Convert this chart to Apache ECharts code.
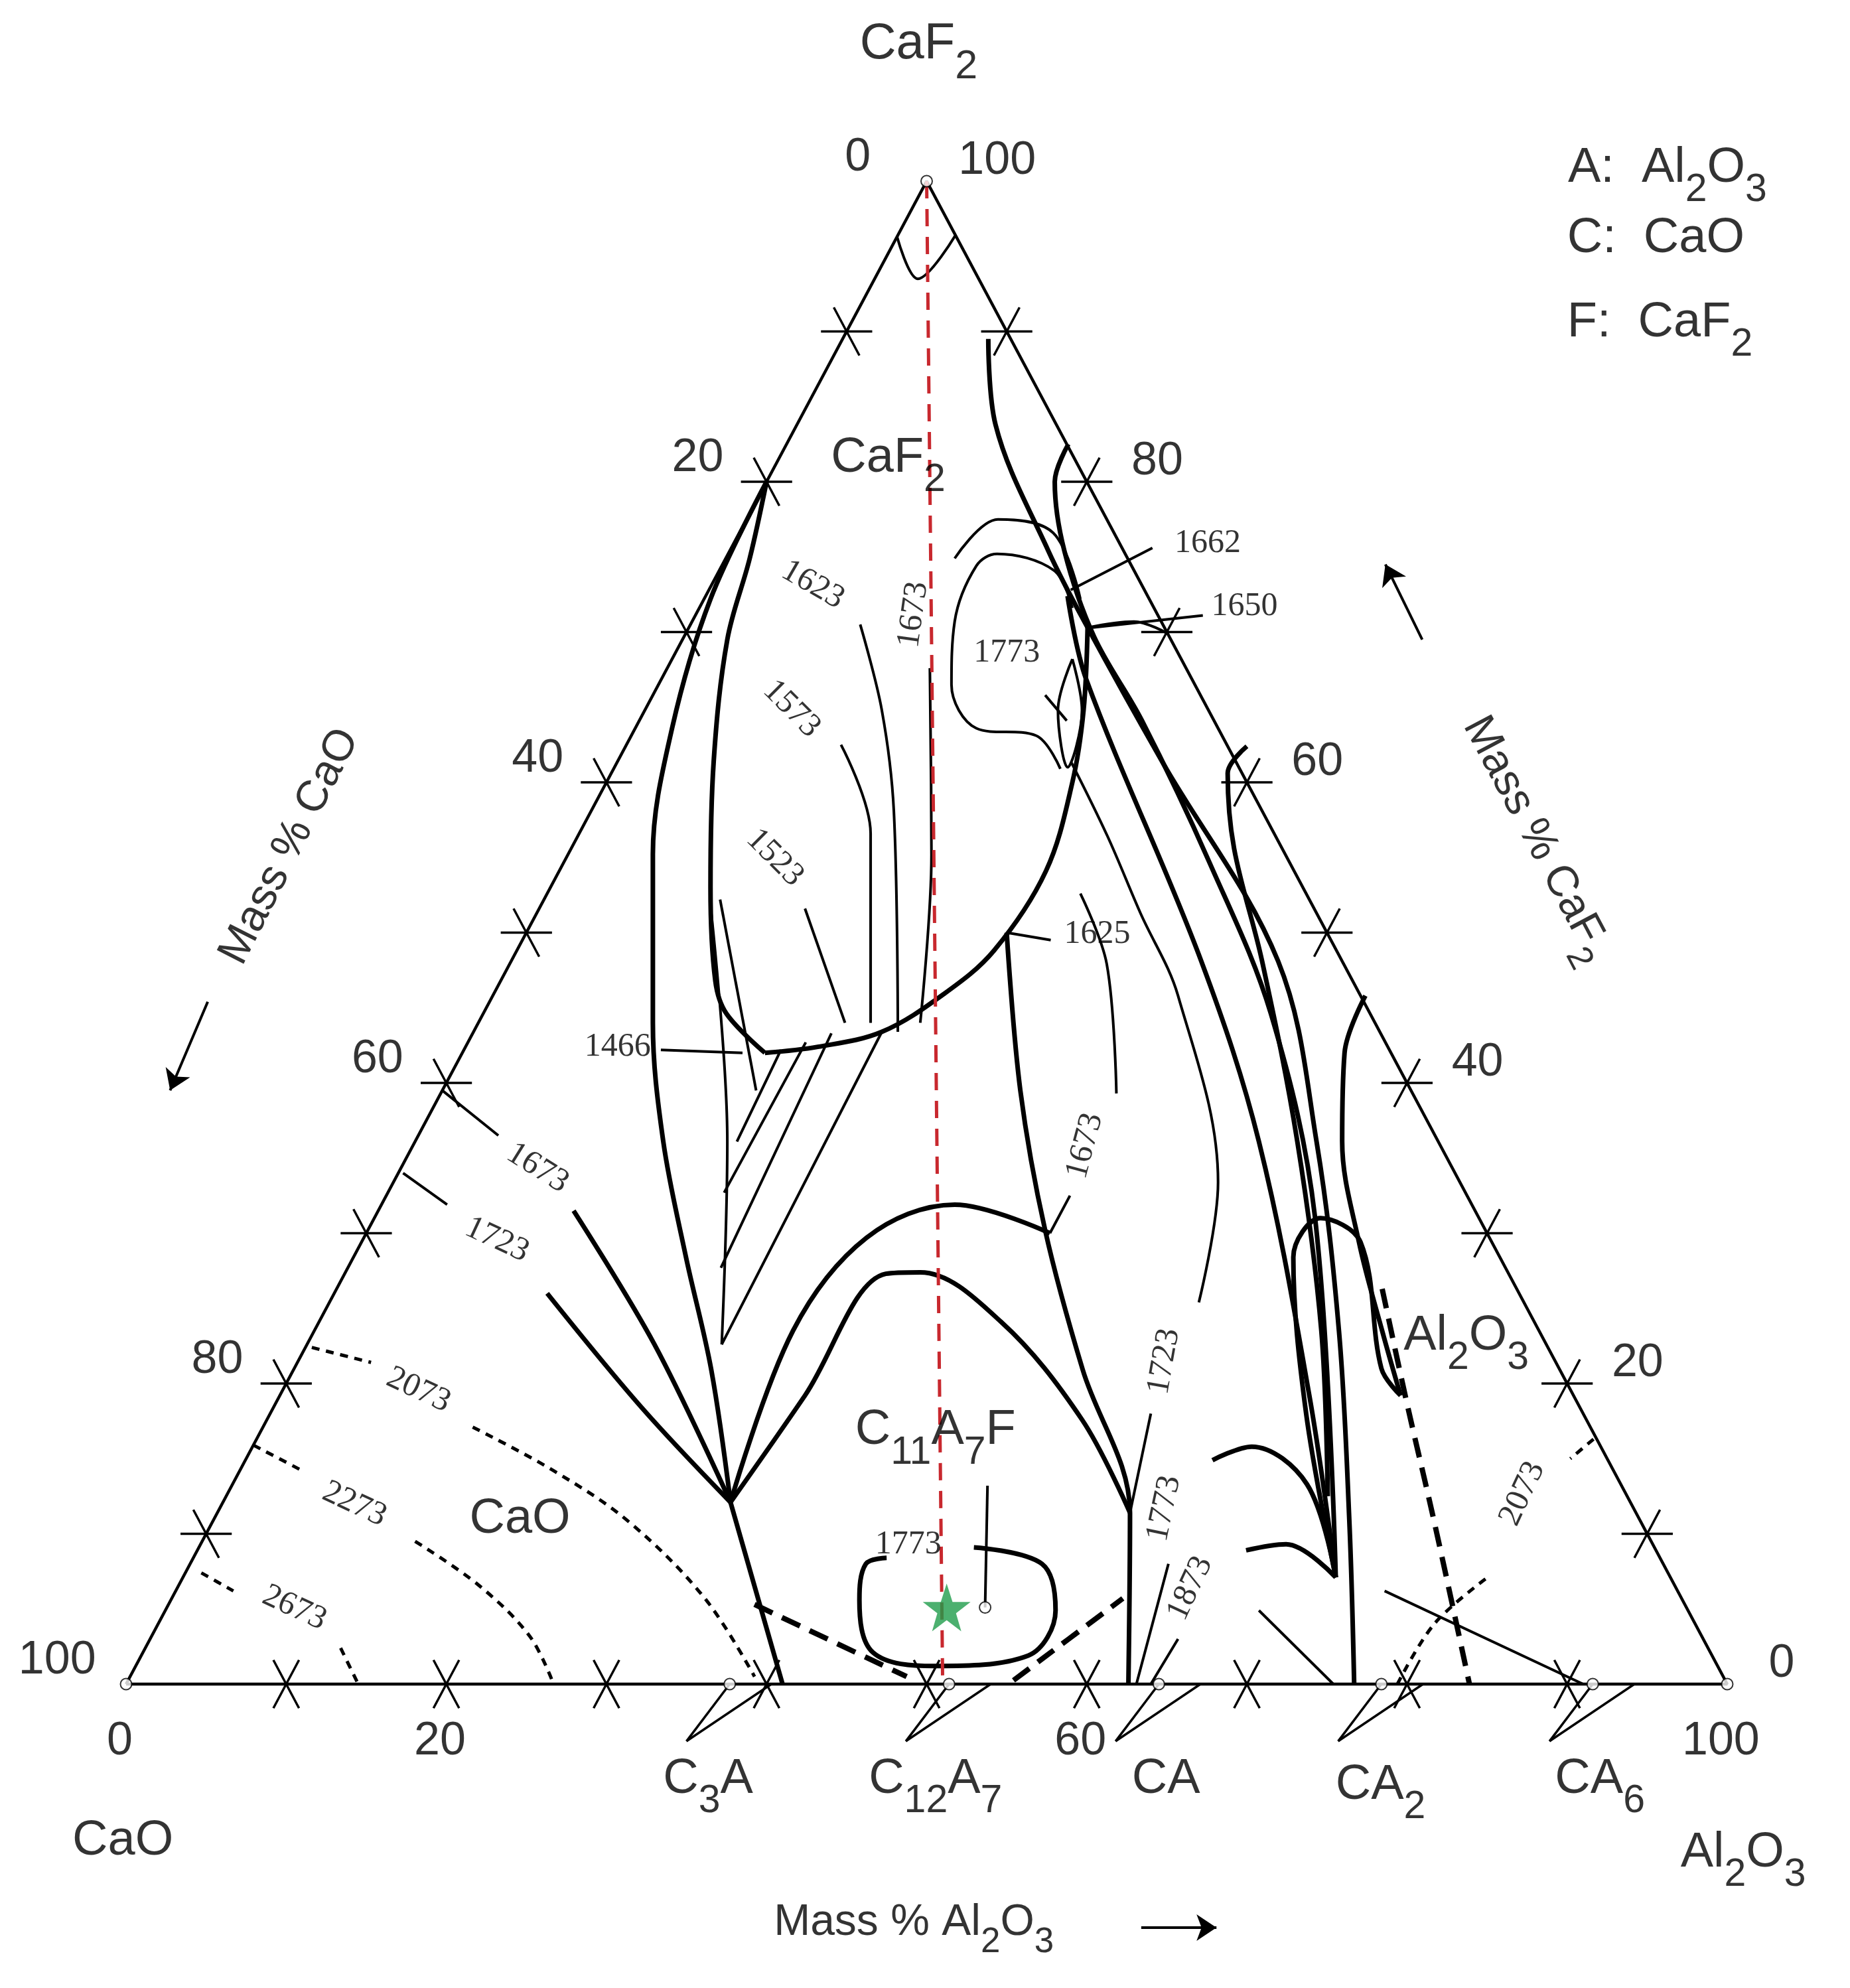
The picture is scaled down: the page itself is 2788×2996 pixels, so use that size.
<!DOCTYPE html>
<html><head><meta charset="utf-8">
<script src="https://cdn.jsdelivr.net/npm/echarts@6/dist/echarts.min.js"></script>
<style>html,body{margin:0;padding:0;background:#fff}#c{width:2788px;height:2996px}</style>
</head><body><div id="c"></div>
<script>
// Compositions are [mass% Al2O3, mass% CaF2]
const EDGE_TICKS = [10,20,30,40,50,60,70,80,90];
const LEFT_LABELS = [0,20,40,60,80,100];   // mass% CaO
const RIGHT_LABELS = [0,20,40,60,80,100];  // mass% CaF2
const BOTTOM_LABELS = [0,20,60,100];       // mass% Al2O3
const COMPOUNDS = [['C_3A',37.7],['C_12A_7',51.4],['CA',64.5],['CA_2',78.4],['CA_6',91.6]];
const SECTION_LINE = [[0,100],[51,0]];
const SAMPLE_STAR = [48.7,5.1];
const C11A7F_POINT = [51.1,5.1];

const THICK = {
  L1:[[0,80],[0.4,72.2],[2.3,63.6],[5.3,55.2],[10.9,44.0],[15.5,36.1],[20.7,28.5],[26.1,20.9],[31.7,12.1]],
  L2:[[0,80],[1.5,74.9],[2.8,69.5],[6.0,61.4],[10.0,53.0],[13.4,46.8],[15.2,44.6],[18.9,42.0]],
  big:[[18.9,42.0],[22.0,42.4],[25.5,43.4],[28.1,45.9],[29.8,48.8],[30.4,54.1],[29.1,60.0],[27.4,64.8],[24.9,70.3]],
  R1:[[9.1,89.5],[12.4,83.8],[19.9,75.4],[24.9,70.3],[34.1,61.3],[47.9,48.1],[56.3,36.1],[64.0,23.5],[71.0,10.8],[76.7,0]],
  R2:[[22.6,72.4],[26.5,66.9],[43.1,48.1],[52.7,36.1],[64.3,19.2],[72.0,7.1]],
  R4:[[17.6,82.5],[18.0,80.0],[20.9,75.4],[25.6,69.7],[31.4,64.1],[40.3,54.7],[49.2,44.6],[58.7,31.1],[72.0,7.1]],
  CAline:[[30.0,50.0],[36.1,39.5],[42.3,30.2],[49.3,20.9],[57.0,11.4],[62.6,0]],
  upperArch:[[31.7,12.1],[29.9,23.5],[31.4,29.7],[35.8,31.9],[42.7,30.0]],
  lowerArch:[[31.7,12.1],[32.8,19.2],[33.8,27.3],[35.9,27.4],[42.6,24.1],[50.9,17.6],[57.0,11.4]],
  C3Aline:[[31.7,12.1],[41.0,0]],
  i1673L:[[12.2,31.5],[21.7,22.6],[31.7,12.1]],
  i1723L:[[13.3,26.0],[23.0,18.4],[31.7,12.1]],
  arch1:[[60.4,14.9],[62.4,15.8],[67.1,13.3],[72.0,7.1]],
  arch2:[[65.5,8.9],[67.8,9.3],[72.0,7.1]],
  tallArch:[[72.0,7.1],[64.7,18.0],[58.7,28.4],[59.1,31.0],[62.4,29.4],[67.9,21.0],[70.0,19.2]],
  alLiq:[[54.5,45.8],[55.1,42.0],[57.9,36.1],[62.3,29.4],[66.7,23.5],[70.0,19.2]],
  nearEdge:[[38.8,62.4],[38.5,60.6],[41.4,55.6],[46.9,48.1],[55.1,36.1],[62.9,23.5],[68.8,12.5]],
  bottomLoop:[[48.4,9.1],[53.2,8.0],[55.6,4.9],[55.4,1.9],[49.9,1.2],[45.6,2.1],[43.0,5.6],[42.2,8.0],[43.3,8.4]]
};
const THIN = {
  i1623:[[10.6,70.5],[14.8,64.8],[18.9,58.1],[26.5,43.4]],
  i1573:[[13.4,62.5],[18.2,56.6],[24.5,44.0]],
  i1523:[[16.6,51.6],[22.9,44.0]],
  i1673T:[[16.4,67.6],[22.7,55.2],[27.6,44.0]],
  open1773:[[14.3,74.9],[15.7,77.5],[19.6,76.6],[23.5,72.2]],
  loop1773:[[23.3,71.6],[20.9,74.1],[16.8,75.2],[15.9,74.4],[16.4,70.7],[18.3,66.5],[21.3,63.6],[25.3,63.1],[27.9,60.9]],
  ellipse:[[25.0,68.2],[27.3,64.8],[28.3,61.0],[25.8,64.8],[25.0,68.2]],
  R3:[[28.4,61.3],[33.1,56.4],[37.7,51.3],[42.8,45.8],[51.5,33.4],[54.3,25.4]],
  R3b:[[55.0,18.0],[57.0,11.4]],
  i1673R:[[33.3,52.6],[37.3,47.9],[42.2,39.3]],
  i1673Rb:[[42.7,32.5],[42.7,30.0]],
  l1650:[[24.9,70.3],[27.6,70.7],[30.1,69.9]],
  T1:[[10.9,51.3],[19.5,36.1],[25.9,22.6]],
  T2:[[11.0,52.2],[19.6,39.5]],
  T3:[[23.3,27.7],[22.4,43.3]],
  T4:[[25.9,22.6],[25.5,43.5]],
  T5:[[21.0,32.7],[21.1,42.7]],
  T6:[[20.1,36.1],[19.8,42.2]],
  lead1466:[[12.3,42.2],[17.5,42.0]],
  lead1662:[[22.6,72.8],[26.3,75.6]],
  lead1650:[[25.2,70.3],[31.7,71.1]],
  lead1773:[[24.5,65.8],[26.7,64.1]],
  lead1625:[[30.0,50.0],[33.0,49.5]],
  pre1673:[[0,39.5],[5.0,36.5]],
  pre1723:[[0.3,34.0],[4.1,31.9]],
  c1773:[[63.1,0],[61.1,8.0]],
  c1873:[[64.0,0],[64.2,3.0]],
  ptr:[[51.1,5.1],[47.2,13.2]],
  tie1:[[68.3,4.9],[75.4,0]],
  tie2:[[75.5,6.2],[91.0,0]],
  apexArc:[[0,96.3],[2.7,93.5],[3.6,96.4]]
};
const DASHED = {
  d2073:[[0.4,22.4],[4.6,21.4]],
  d2073b:[[13.1,17.1],[19.6,14.2],[26.0,10.8],[33.3,5.7],[39.0,0.5]],
  d2273:[[0,15.9],[3.9,14.2]],
  d2273b:[[13.3,9.5],[18.7,6.6],[23.6,3.2],[26.7,0]],
  d2673:[[1.0,7.4],[3.6,6.2]],
  d2673b:[[12.2,2.4],[14.5,0]],
  r2073a:[[83.5,16.3],[82.7,15.0]],
  r2073b:[[81.4,7.0],[79.7,4.0],[79.4,0]]
};
const HEAVY_DASHED = {
  h1:[[36.6,5.3],[48.5,0.5]],
  h2:[[55.3,0.25],[59.4,5.7]],
  alB:[[65.3,26.3],[70.5,18.9],[76.3,10.8],[83.9,0]]
};
// [text, Al2O3, CaF2, rotation]
const ISO_LABELS = [
  ['1623',6.3,72.8,-30],['1573',9.0,64.6,-45],['1523',12.9,54.7,-45],['1673',14.0,71.1,82],
  ['1773',20.9,68.2,0],['1662',29.8,75.5,0],['1650',34.2,71.3,0],['1625',35.9,49.5,0],['1466',9.7,42.0,0],
  ['1673',8.5,34.0,-32],['1723',8.4,29.2,-25],['1673',42.4,35.7,75],['1723',54.5,21.4,80],
  ['2073',8.5,19.2,-25],['2273',8.3,11.6,-25],['2673',8.0,4.7,-25],['1773',44.4,8.9,0],
  ['1773',59.4,11.6,78],['1873',63.7,6.2,65],['2073',81.3,12.5,65]
];
const REGION_LABELS = [['CaF_2',7.1,81.0],['CaO',19.4,10.4],['C_11A_7F',42.4,16.3],['Al_2O_3',72.4,22.6]];

const tern = p => [p[0] + p[1]/2, p[1]];
const series = [];
const line = (pts, w, extra) => series.push(Object.assign({type:'line', data:pts.map(tern), showSymbol:false, symbol:'none', smooth:0.35, silent:true, clip:false,
  lineStyle:{color:'#000', width:w}, z:3}, extra||{}));
line([[0,0],[100,0],[0,100],[0,0]], 4.5, {smooth:false});
const tk = [];
EDGE_TICKS.forEach(v=>{
  const b=[v,0], l=[0,v], r=[100-v,v];
  tk.push([[b[0],b[1]-1.6],[b[0],b[1]+1.6]], [[b[0]+1.6,b[1]-1.6],[b[0]-1.6,b[1]+1.6]]);
  tk.push([[l[0]-1.6,l[1]],[l[0]+1.6,l[1]]], [[l[0]+1.6,l[1]-1.6],[l[0]-1.6,l[1]+1.6]]);
  tk.push([[r[0]-1.6,r[1]],[r[0]+1.6,r[1]]], [[r[0],r[1]-1.6],[r[0],r[1]+1.6]]);
});
tk.forEach(t=>line(t,3.5,{smooth:false}));
Object.values(THICK).forEach(p=>line(p,7));
Object.values(THIN).forEach(p=>line(p,4));
Object.values(DASHED).forEach(p=>line(p,5,{lineStyle:{color:'#000',width:5,type:[12,10]}}));
Object.values(HEAVY_DASHED).forEach(p=>line(p,8,{lineStyle:{color:'#000',width:8,type:[30,16]}}));
COMPOUNDS.forEach(c=>{ line([[c[1],0],[c[1]-0.8,-3.8]],3.5,{smooth:false}); line([[c[1]+2.6,0],[c[1]-0.8,-3.8]],3.5,{smooth:false}); });
line(SECTION_LINE,5,{smooth:false,z:6,lineStyle:{color:'#c8282e',width:5,type:[26,16]}});
const circ = [[0,0],[100,0],[0,100],C11A7F_POINT].concat(COMPOUNDS.map(c=>[c[1],0]));
series.push({type:'scatter',data:circ.map(tern),symbol:'emptyCircle',symbolSize:17,clip:false,itemStyle:{color:'#000',borderWidth:3},z:7,silent:true});
series.push({type:'scatter',data:[tern(SAMPLE_STAR)],clip:false,symbol:'path://M50,0 L61.8,35.1 L98.1,35.1 L68.8,56.7 L79.4,91 L50,70 L20.6,91 L31.2,56.7 L1.9,35.1 L38.2,35.1 Z',
  symbolSize:72,itemStyle:{color:'#1f9c4b'},z:8,silent:true});

const texts = [];
const T = (txt,a,f,opt) => texts.push(Object.assign({value:tern([a,f]),t:txt},opt||{}));
const SANS = 'Liberation Sans, DejaVu Sans, sans-serif', SERIF='Liberation Serif, DejaVu Serif, serif';
ISO_LABELS.forEach(l=>T(l[0],l[1],l[2],{rot:l[3],fs:50,ff:SERIF}));
REGION_LABELS.forEach(l=>T(l[0],l[1],l[2],{fs:74}));
LEFT_LABELS.forEach(v=>T(String(v),-4.8,100-v+1,{fs:70}));
RIGHT_LABELS.forEach(v=>T(String(v),104-v+(v===0?-1:0),v+0.8,{fs:70}));
BOTTOM_LABELS.forEach(v=>T(String(v),v+1.8,-4.4,{fs:70}));
COMPOUNDS.forEach((c,i)=>T(c[0],[39.8,54.0,68.4,82.0,95.5][i],[-6.9,-6.9,-6.9,-7.3,-6.9][i],{fs:74}));
T('CaF_2',-4.75,108.5,{fs:76});
T('CaO',5.3,-11,{fs:74});
T('Al_2O_3',106.9,-11.8,{fs:74});
T('Mass % Al_2O_3',57.4,-16.4,{fs:66});
T('Mass % CaO',-17.1,55.5,{fs:66,rot:63});
T('Mass % CaF_2',59.7,56,{fs:66,rot:-62});
T('A:  Al_2O_3',39.9,100.3,{fs:74,align:'left'});
T('C:  CaO',42.2,95.6,{fs:74,align:'left'});
T('F:  CaF_2',45.0,90.0,{fs:74,align:'left'});
// "X_12" -> rich text with subscript tokens
const toRich = s => s.split(/(_\d+)/).filter(x=>x).map(x=>x[0]==='_' ? '{s|'+x.slice(1)+'}' : '{n|'+x+'}').join('');
series.push({type:'scatter',symbolSize:0,silent:true,z:10,clip:false,
  data:texts.map(d=>{
    const fs=d.fs, ff=d.ff||SANS, lh=Math.round(fs*1.35);
    return {value:d.value,label:{show:true,position:'inside',formatter:toRich(d.t),rotate:d.rot||0,
      align:d.align||'center',verticalAlign:'middle',
      rich:{n:{fontSize:fs,fontFamily:ff,color:'#000',lineHeight:lh,verticalAlign:'top',align:d.align||'center'},
            s:{fontSize:Math.round(fs*0.8),fontFamily:ff,color:'#000',lineHeight:lh,verticalAlign:'bottom',align:d.align||'center'}}}};
  })});
const ARROWS = [[[71.5,-16.2],[76.2,-16.2]],[[-17.6,45.4],[-17.0,39.5]],[[46.2,69.5],[41.4,74.5]]];
series.push({type:'lines',coordinateSystem:'cartesian2d',silent:true,z:5,clip:false,
  symbol:['none','arrow'],symbolSize:30,lineStyle:{color:'#000',width:4,opacity:1},
  data:ARROWS.map(a=>({coords:a.map(tern)}))});

const chart = echarts.init(document.getElementById('c'));
chart.setOption({
  animation:false,
  grid:{left:190,width:2413,top:273,bottom:5},
  xAxis:{type:'value',min:0,max:100,show:false},
  yAxis:{type:'value',min:-20,max:100,show:false},
  series:series
});
</script></body></html>
